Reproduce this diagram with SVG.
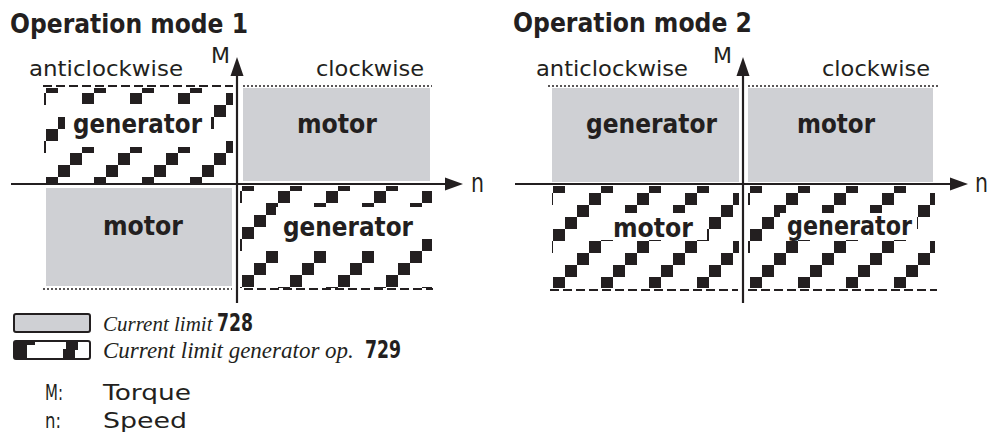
<svg xmlns="http://www.w3.org/2000/svg" xmlns:xlink="http://www.w3.org/1999/xlink" width="990" height="438" viewBox="0 0 990 438">
<style>
.t{font-family:"DejaVu Sans","Liberation Sans",sans-serif;fill:#231f20}
.b{font-weight:bold}
.i{font-family:"Liberation Serif",serif;font-style:italic;fill:#231f20}
.ax{stroke:#231f20;stroke-width:2.2;fill:none}
.ah{fill:#231f20}
.gray{fill:#cfd0d4}
.dot{stroke:#231f20;stroke-width:1.6;stroke-dasharray:2 2;fill:none}
.dash{stroke:#231f20;stroke-width:2;stroke-dasharray:9 4;fill:none}
.wb{fill:#fff}
</style>
<defs>
<pattern id="hA" x="46" y="141" width="48" height="48" patternUnits="userSpaceOnUse">
<rect x="0" y="36" width="12" height="12" fill="#231f20"/>
<rect x="12" y="24" width="12" height="12" fill="#231f20"/>
<rect x="24" y="12" width="12" height="12" fill="#231f20"/>
<rect x="36" y="0" width="12" height="12" fill="#231f20"/>
</pattern>
<pattern id="hB" xlink:href="#hA" x="242" y="239"/>
<pattern id="hC" xlink:href="#hA" x="553" y="241"/>
<pattern id="hD" xlink:href="#hA" x="750" y="241"/>
</defs>
<rect width="990" height="438" fill="#fff"/>

<g id="mode1">
<text class="t b" x="10" y="33" font-size="26" textLength="238" lengthAdjust="spacingAndGlyphs">Operation mode 1</text>
<text class="t" x="29" y="76" font-size="22" textLength="154" lengthAdjust="spacingAndGlyphs">anticlockwise</text>
<text class="t" x="316" y="76" font-size="22" textLength="108" lengthAdjust="spacingAndGlyphs">clockwise</text>
<g id="m1-ul">
<rect x="44" y="88" width="189" height="95" fill="url(#hA)"/>
<line class="dash" x1="43" y1="86" x2="233" y2="86"/>
<rect class="wb" x="65" y="104" width="146" height="43"/>
<text class="t b" x="73" y="133" font-size="27" textLength="129" lengthAdjust="spacingAndGlyphs">generator</text>
</g>
<g id="m1-ur">
<rect class="gray" x="243" y="88" width="187" height="93"/>
<line class="dot" x1="243" y1="86" x2="432" y2="86"/>
<text class="t b" x="297" y="133" font-size="27" textLength="80" lengthAdjust="spacingAndGlyphs">motor</text>
</g>
<g id="m1-ll">
<rect class="gray" x="46" y="188" width="186" height="98"/>
<line class="dot" x1="43" y1="289" x2="232" y2="289"/>
<text class="t b" x="103" y="235" font-size="27" textLength="80" lengthAdjust="spacingAndGlyphs">motor</text>
</g>
<g id="m1-lr">
<rect x="240" y="186" width="192" height="102" fill="url(#hB)"/>
<line class="dash" x1="244" y1="289" x2="433" y2="289"/>
<rect class="wb" x="276" y="207" width="146" height="44"/>
<text class="t b" x="283" y="236" font-size="27" textLength="130" lengthAdjust="spacingAndGlyphs">generator</text>
</g>
</g>

<g id="mode2">
<text class="t b" x="513" y="32" font-size="26" textLength="239" lengthAdjust="spacingAndGlyphs">Operation mode 2</text>
<text class="t" x="536" y="76" font-size="22" textLength="152" lengthAdjust="spacingAndGlyphs">anticlockwise</text>
<text class="t" x="822" y="76" font-size="22" textLength="108" lengthAdjust="spacingAndGlyphs">clockwise</text>
<g id="m2-ul">
<rect class="gray" x="552" y="88" width="187" height="94"/>
<line class="dot" x1="548" y1="86" x2="739" y2="86"/>
<text class="t b" x="586" y="133" font-size="27" textLength="131" lengthAdjust="spacingAndGlyphs">generator</text>
</g>
<g id="m2-ur">
<rect class="gray" x="748" y="88" width="185" height="94"/>
<line class="dot" x1="748" y1="86" x2="938" y2="86"/>
<text class="t b" x="797" y="133" font-size="27" textLength="78" lengthAdjust="spacingAndGlyphs">motor</text>
</g>
<g id="m2-ll">
<rect x="552" y="186" width="187" height="102" fill="url(#hC)"/>
<line class="dash" x1="550" y1="290" x2="738" y2="290"/>
<rect class="wb" x="600" y="213" width="107" height="27"/>
<text class="t b" x="613" y="237" font-size="27" textLength="80" lengthAdjust="spacingAndGlyphs">motor</text>
</g>
<g id="m2-lr">
<rect x="748" y="186" width="187" height="102" fill="url(#hD)"/>
<line class="dash" x1="748" y1="290" x2="937" y2="290"/>
<rect class="wb" x="780" y="213" width="137" height="27"/>
<text class="t b" x="787" y="235" font-size="27" textLength="125" lengthAdjust="spacingAndGlyphs">generator</text>
</g>
</g>

<g id="connectors">
<line class="ax" x1="237" y1="303" x2="237" y2="70"/>
<polygon class="ah" points="237,57 243.5,76 230.5,76"/>
<line class="ax" x1="11" y1="184" x2="450" y2="184"/>
<polygon class="ah" points="463,184 445,177.5 445,190.5"/>
<line class="ax" x1="743" y1="303" x2="743" y2="70"/>
<polygon class="ah" points="743,57 749.5,76 736.5,76"/>
<line class="ax" x1="515" y1="184" x2="955" y2="184"/>
<polygon class="ah" points="968,184 950,177.5 950,190.5"/>
</g>

<g id="axis-labels">
<text class="t" x="211" y="63" font-size="22" textLength="19" lengthAdjust="spacingAndGlyphs">M</text>
<text class="t" x="471" y="192" font-size="26" textLength="13" lengthAdjust="spacingAndGlyphs">n</text>
<text class="t" x="713" y="63" font-size="22" textLength="19" lengthAdjust="spacingAndGlyphs">M</text>
<text class="t" x="975" y="192" font-size="26" textLength="13" lengthAdjust="spacingAndGlyphs">n</text>
</g>

<g id="legend">
<rect x="14" y="314" width="76" height="18" rx="2" class="gray" stroke="#231f20" stroke-width="2"/>
<text class="i" x="103" y="331" font-size="21">Current limit</text>
<text class="t b" x="217" y="331" font-size="24" textLength="36" lengthAdjust="spacingAndGlyphs">728</text>
<rect x="14" y="341" width="76" height="18" rx="2" fill="#fff" stroke="#231f20" stroke-width="2"/>
<rect x="15" y="342" width="12" height="16" fill="#231f20"/>
<rect x="27" y="342" width="8" height="3" fill="#231f20"/>
<rect x="63" y="349" width="12" height="9" fill="#231f20"/>
<rect x="66" y="342" width="12" height="8" fill="#231f20"/>
<text class="i" x="103" y="358" font-size="23">Current limit generator op.</text>
<text class="t b" x="365" y="358" font-size="24" textLength="36" lengthAdjust="spacingAndGlyphs">729</text>
<text class="t" x="45" y="400" font-size="22" textLength="18" lengthAdjust="spacingAndGlyphs">M:</text>
<text class="t" x="103" y="400" font-size="22" textLength="88" lengthAdjust="spacingAndGlyphs">Torque</text>
<text class="t" x="45" y="428" font-size="22" textLength="16" lengthAdjust="spacingAndGlyphs">n:</text>
<text class="t" x="103" y="428" font-size="22" textLength="84" lengthAdjust="spacingAndGlyphs">Speed</text>
</g>
</svg>
